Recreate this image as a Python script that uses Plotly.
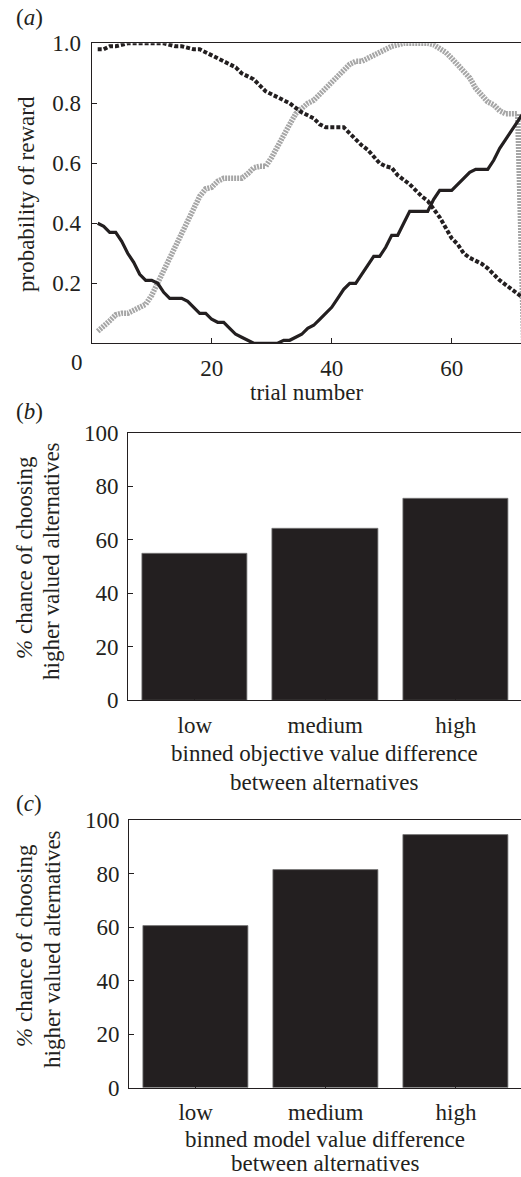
import plotly.graph_objects as go

# ---------------- data ----------------
trials = list(range(1, 73))

# panel (a): reward probability of the three options over trials
option_solid = [0.40, 0.39, 0.37, 0.37, 0.34, 0.30, 0.27, 0.23, 0.21, 0.21,
                0.20, 0.17, 0.15, 0.15, 0.15, 0.14, 0.12, 0.10, 0.10, 0.08,
                0.07, 0.07, 0.05, 0.03, 0.02, 0.01, 0.00, 0.00, 0.00, 0.00,
                0.00, 0.01, 0.01, 0.02, 0.03, 0.05, 0.06, 0.08, 0.10, 0.12,
                0.15, 0.18, 0.20, 0.20, 0.23, 0.26, 0.29, 0.29, 0.32, 0.36,
                0.36, 0.40, 0.44, 0.44, 0.44, 0.44, 0.48, 0.51, 0.51, 0.51,
                0.53, 0.55, 0.57, 0.58, 0.58, 0.58, 0.61, 0.65, 0.68, 0.71,
                0.74, 0.77]

option_dotted = [0.98, 0.98, 0.99, 0.99, 0.995, 1.00, 1.00, 1.00, 1.00, 1.00,
                 1.00, 1.00, 0.995, 0.99, 0.99, 0.985, 0.98, 0.98, 0.97, 0.96,
                 0.95, 0.94, 0.93, 0.92, 0.90, 0.89, 0.88, 0.86, 0.84, 0.83,
                 0.82, 0.81, 0.80, 0.785, 0.77, 0.76, 0.75, 0.73, 0.72, 0.72,
                 0.72, 0.72, 0.70, 0.68, 0.66, 0.645, 0.62, 0.60, 0.59, 0.585,
                 0.56, 0.545, 0.53, 0.51, 0.49, 0.475, 0.45, 0.42, 0.385, 0.35,
                 0.33, 0.30, 0.285, 0.275, 0.265, 0.25, 0.23, 0.21, 0.195, 0.18,
                 0.165, 0.15]

option_grey = [0.04, 0.055, 0.075, 0.095, 0.10, 0.10, 0.11, 0.12, 0.13, 0.16,
               0.20, 0.245, 0.285, 0.325, 0.365, 0.405, 0.445, 0.49, 0.515, 0.52,
               0.54, 0.55, 0.55, 0.55, 0.55, 0.565, 0.585, 0.59, 0.59, 0.62,
               0.66, 0.695, 0.73, 0.765, 0.785, 0.80, 0.81, 0.83, 0.85, 0.87,
               0.895, 0.91, 0.93, 0.94, 0.94, 0.95, 0.96, 0.975, 0.985, 0.99,
               0.995, 1.00, 1.00, 1.00, 1.00, 1.00, 0.995, 0.985, 0.97, 0.95,
               0.93, 0.91, 0.885, 0.85, 0.825, 0.805, 0.795, 0.775, 0.765, 0.765,
               0.765, 0.0]

prob_ticks = [0.2, 0.4, 0.6, 0.8, 1.0]
trial_ticks = [20, 40, 60]

# panels (b) and (c)
bins = ["low", "medium", "high"]
objective_pct = [54.8, 64.3, 75.3]
model_pct = [60.3, 81.3, 94.4]
pct_ticks = [0, 20, 40, 60, 80, 100]

# ---------------- styling ----------------
W, H = 521, 1177
INK = "#231f20"
FONT = "Liberation Serif"
FS = 23


def py(px):
    return 1 - px / H


def px_x(px):
    return px / W


fig = go.Figure()

fig.add_trace(go.Scatter(x=trials, y=option_grey, mode="lines",
                         line=dict(color="#a6a6a6", width=5.5, dash="2px,1px"),
                         xaxis="x", yaxis="y", showlegend=False))
fig.add_trace(go.Scatter(x=trials, y=option_dotted, mode="lines",
                         line=dict(color=INK, width=4, dash="4px,2px"),
                         xaxis="x", yaxis="y", showlegend=False))
fig.add_trace(go.Scatter(x=trials, y=option_solid, mode="lines",
                         line=dict(color=INK, width=3.2),
                         xaxis="x", yaxis="y", showlegend=False))

fig.add_trace(go.Bar(x=bins, y=objective_pct, width=0.81,
                     marker=dict(color=INK, line=dict(color="#777777", width=0.8)),
                     xaxis="x2", yaxis="y2", showlegend=False))
fig.add_trace(go.Bar(x=bins, y=model_pct, width=0.81,
                     marker=dict(color=INK, line=dict(color="#777777", width=0.8)),
                     xaxis="x3", yaxis="y3", showlegend=False))

axis_common = dict(showline=True, linecolor=INK, linewidth=1.2, ticks="inside",
                   ticklen=5, tickcolor=INK, tickwidth=1, showgrid=False,
                   zeroline=False, automargin=False,
                   tickfont=dict(family=FONT, size=FS, color=INK))

fig.update_layout(
    template="none",
    width=W, height=H,
    margin=dict(l=0, r=0, t=0, b=0, pad=0, autoexpand=False),
    paper_bgcolor="white", plot_bgcolor="white",
    bargap=0,
    font=dict(family=FONT, size=FS, color=INK),
    xaxis=dict(axis_common, domain=[px_x(91.7), 1], range=[0, (W - 91.7) / 6.0],
               tickvals=trial_ticks, mirror=True, anchor="y",
               ticklabelstandoff=4),
    yaxis=dict(axis_common, domain=[py(343.3), py(43.3)], range=[0, 1],
               tickvals=prob_ticks, ticktext=[f"{v:.1f}" for v in prob_ticks],
               anchor="x", ticklabelstandoff=5),
    xaxis2=dict(axis_common, domain=[px_x(128.3), 1], range=[-0.51, 2.5],
                type="category", mirror=True, anchor="y2", ticklabelstandoff=4),
    yaxis2=dict(axis_common, domain=[py(700.3), py(432.7)], range=[0, 100],
                tickvals=pct_ticks, anchor="x2", ticklabelstandoff=4),
    xaxis3=dict(axis_common, domain=[px_x(129.3), 1], range=[-0.51, 2.5],
                type="category", mirror=True, anchor="y3", ticklabelstandoff=4),
    yaxis3=dict(axis_common, domain=[py(1087.7), py(820)], range=[0, 100],
                tickvals=pct_ticks, anchor="x3", ticklabelstandoff=4),
)


def note(text, xp, ypix, angle=0, xanchor="center", size=FS):
    fig.add_annotation(text=text, x=px_x(xp), y=py(ypix), xref="paper", yref="paper",
                       showarrow=False, textangle=angle, xanchor=xanchor,
                       yanchor="middle", font=dict(family=FONT, size=size, color=INK))


# panel labels
note("(<i>a</i>)", 29, 18)
note("(<i>b</i>)", 29, 411)
note("(<i>c</i>)", 29, 803)

# panel (a) texts
note("0", 77, 362)
note("trial number", 306, 393)
note("probability of reward", 26, 194, angle=-90)

# panel (b) texts
note("<i>%</i> chance of choosing", 24, 558, angle=-90)
note("higher valued alternatives", 52, 561, angle=-90)
note("binned objective value difference", 324, 753)
note("between alternatives", 324, 782)

# panel (c) texts
note("<i>%</i> chance of choosing", 24, 946, angle=-90)
note("higher valued alternatives", 52, 949, angle=-90)
note("binned model value difference", 325, 1139)
note("between alternatives", 325, 1163)

fig.write_html(
    "out.html",
    config={"displayModeBar": False},
    post_script="document.body.style.margin='0';document.body.style.overflow='hidden';"
                "document.documentElement.style.overflow='hidden';",
)
